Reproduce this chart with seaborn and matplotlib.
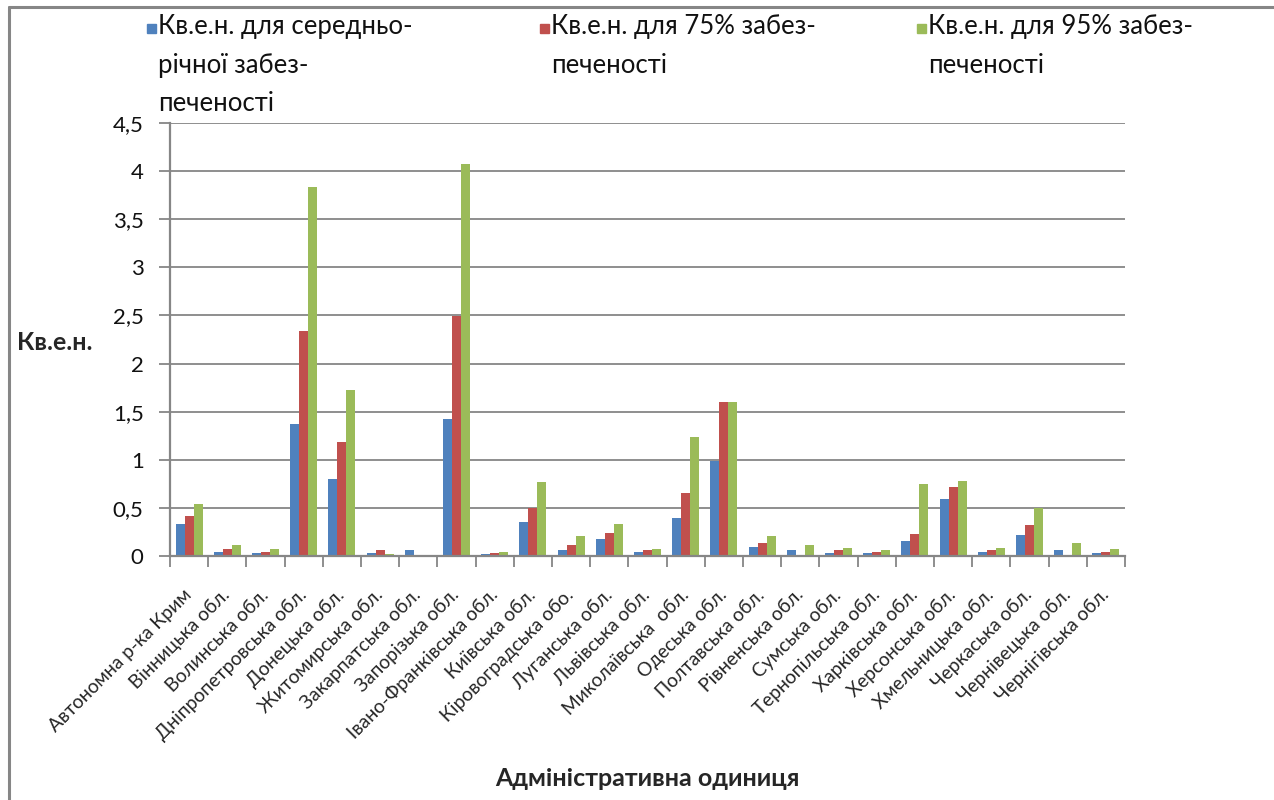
import numpy as np
import pandas as pd
import seaborn as sns
import matplotlib.pyplot as plt
from matplotlib.patches import Rectangle
from matplotlib.lines import Line2D

# --- data -----------------------------------------------------------------
regions = [
    "Автономна р-ка Крим", "Вінницька обл.", "Волинська обл.",
    "Дніпропетровська обл.", "Донецька обл.", "Житомирська обл.",
    "Закарпатська обл.", "Запорізька обл.", "Івано-Франківська обл.",
    "Київська обл.", "Кіровоградська обо.", "Луганська обл.",
    "Львівська обл.", "Миколаївська  обл.", "Одеська обл.",
    "Полтавська обл.", "Рівненська обл.", "Сумська обл.",
    "Тернопільська обл.", "Харківська обл.", "Херсонська обл.",
    "Хмельницька обл.", "Черкаська обл.", "Чернівецька обл.",
    "Чернігівська обл.",
]
mean_supply = [0.33, 0.04, 0.03, 1.37, 0.80, 0.03, 0.06, 1.42, 0.02, 0.35,
               0.06, 0.18, 0.04, 0.39, 0.99, 0.09, 0.06, 0.03, 0.03, 0.16,
               0.59, 0.04, 0.22, 0.06, 0.03]
supply_75 = [0.42, 0.07, 0.04, 2.34, 1.18, 0.06, 0.00, 2.49, 0.03, 0.50,
             0.11, 0.24, 0.06, 0.65, 1.60, 0.13, 0.00, 0.06, 0.04, 0.23,
             0.72, 0.06, 0.32, 0.00, 0.04]
supply_95 = [0.54, 0.11, 0.07, 3.83, 1.72, 0.02, 0.00, 4.07, 0.04, 0.77,
             0.21, 0.33, 0.07, 1.24, 1.60, 0.21, 0.11, 0.08, 0.06, 0.75,
             0.78, 0.08, 0.50, 0.13, 0.07]
series_labels = [
    "Кв.е.н. для середньо-\nрічної забез-\nпеченості",
    "Кв.е.н. для 75% забез-\nпеченості",
    "Кв.е.н. для 95% забез-\nпеченості",
]
y_ticks = [0, 0.5, 1, 1.5, 2, 2.5, 3, 3.5, 4, 4.5]
colors = ["#4F81BD", "#C0504D", "#9BBB59"]
grey = "#868686"

# --- figure ---------------------------------------------------------------
sns.set_theme(style="white")
plt.rcParams["font.family"] = ["Lato", "DejaVu Sans"]

W, H = 1274, 800
fig = plt.figure(figsize=(W / 100, H / 100), dpi=100)
ax = fig.add_axes([170 / W, 1 - 556 / H, (1125 - 170) / W, (556 - 123) / H])

df = pd.DataFrame({
    "region": regions * 3,
    "series": np.repeat(series_labels, len(regions)),
    "value": mean_supply + supply_75 + supply_95,
})
sns.barplot(data=df, x="region", y="value", hue="series",
            hue_order=series_labels, palette=colors, saturation=1,
            width=0.71, gap=0, linewidth=0, legend=False, ax=ax)

ax.set_xlim(-0.5, len(regions) - 0.5)
ax.set_ylim(0, 4.5)
ax.set_yticks(y_ticks)
ax.set_yticklabels([f"{v:g}".replace(".", ",") for v in y_ticks])
ax.yaxis.grid(True, color=grey, lw=1.3)
ax.set_axisbelow(True)
for side in ("top", "right"):
    ax.spines[side].set_visible(False)
for side in ("left", "bottom"):
    ax.spines[side].set_color(grey)
    ax.spines[side].set_linewidth(1.6)

ax.tick_params(axis="y", length=8, width=1.3, color=grey, pad=11,
               labelsize=16, labelcolor="#111111", left=True)
ax.set_xticks(range(len(regions)))
ax.set_xticklabels(regions, rotation=45, ha="right", va="center",
                   rotation_mode="anchor", fontsize=13.8)
ax.set_xticks(np.arange(-0.5, len(regions), 1), minor=True)
ax.tick_params(axis="x", which="major", length=0, pad=26)
ax.tick_params(axis="x", which="minor", length=8, width=1.3, color=grey,
               bottom=True)

ax.set_ylabel("Кв.е.н.", rotation=0, fontsize=18, fontweight="bold",
              ha="left", va="center")
ax.yaxis.set_label_coords((17 - 170) / 955, (556 - 343) / 433)
ax.set_xlabel("Адміністративна одиниця", fontsize=18, fontweight="bold")
ax.xaxis.set_label_coords(0.5, (556 - 779) / 433)
ax.xaxis.label.set_va("center")

# legend across the top
for x0, label, c in zip([147, 540, 917], series_labels, colors):
    fig.add_artist(Rectangle((x0 / W, 1 - 33 / H), 9 / W, 9 / H,
                             color=c, transform=fig.transFigure))
    fig.text((x0 + 11) / W, 1 - 14 / H, label, ha="left", va="top",
             fontsize=18.5, linespacing=1.68, color="#111111")

# outer chart frame
fig.add_artist(Line2D([9 / W, 9 / W], [0, 1 - 7 / H], color=grey, lw=2.2,
                      transform=fig.transFigure))
fig.add_artist(Line2D([9 / W, 1], [1 - 7 / H, 1 - 7 / H], color=grey, lw=2.2,
                      transform=fig.transFigure))

fig.savefig("out.png", dpi=100)
